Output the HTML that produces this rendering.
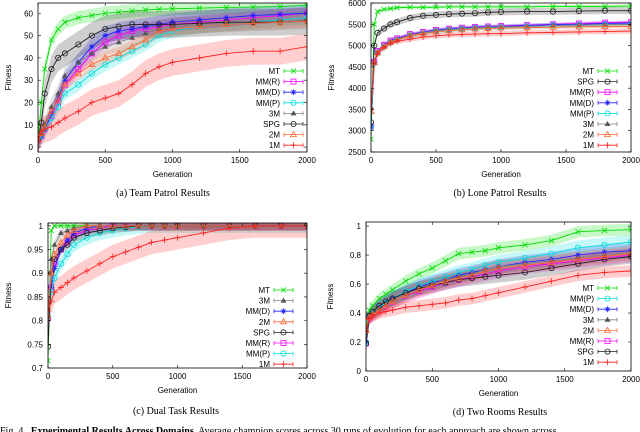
<!DOCTYPE html>
<html><head><meta charset="utf-8">
<style>
html,body{margin:0;padding:0;background:#fff;}
svg{display:block;}
.tk{font-family:"Liberation Sans",sans-serif;font-size:8px;fill:#000;}
.cap{font-family:"Liberation Serif",serif;font-size:10px;fill:#000;}
</style></head>
<body>
<svg id="fig" width="640" height="432" viewBox="0 0 640 432" xmlns="http://www.w3.org/2000/svg"></svg>
<script>
const gens=[0,25,50,100,150,200,300,400,500,600,700,800,900,1000,1200,1400,1600,1800,2000];
const names=["MT","MM(R)","MM(D)","MM(P)","3M","SPG","2M","1M"];
const colors={"MT":"#00dd00","MM(R)":"#ff00ff","MM(D)":"#2222ff","MM(P)":"#00dddd","3M":"#808080","SPG":"#202020","2M":"#ff6633","1M":"#ff2222"};
const markers={"MT":"x","MM(R)":"sq","MM(D)":"star","MM(P)":"circ","3M":"ftri","SPG":"circ","2M":"tri","1M":"plus"};
// (a) Team Patrol
const aMT=[3,20,35,48,53,56,58,59,60,60.5,61,61.5,61.8,62,62.3,62.6,62.8,63,63.5];
const aMMR=[3,5,8,14,20,28,35,42,47,50,52,53,54,55,56,57,58,59,60];
const aMMD=[3,5,8,15,22,30,38,45,50,52,53,54,55,56,57,58,59,59.5,60];
const aMMP=[3,5,8,13,18,24,28,33,37,40,43,46,50,52,54,55,56,57,58];
const a3M=[3,6,10,18,24,32,38,42,45,47,49,51,53,54,55,55.5,56,56.5,57];
const aSPG=[3,11,24,35,40,42,46,50,53,54,55,55,55,55,55.5,56,56,56,56.5];
const a2M=[3,6,9,16,21,28,33,37,40,42,45,48,52,53,54,55,55.5,56,56.5];
const a1M=[3,7,8,9,11,13,16,20,22,24,28,33,36,38,40,42,43,43,45];
const aErr=[3,3,4,3,4,6,3,6];
const aYTicks=[0,10,20,30,40,50,60];
const aLegend=["MT","MM(R)","MM(D)","MM(P)","3M","SPG","2M","1M"];
// (b) Lone Patrol
const bMT=[2800,5500,5800,5850,5870,5890,5900,5900,5900,5910,5910,5910,5910,5910,5910,5920,5920,5920,5930];
const bMMR=[3100,4620,4870,5020,5120,5170,5270,5320,5370,5400,5420,5440,5450,5460,5480,5500,5520,5540,5550];
const bMMD=[3100,4610,4860,5010,5110,5160,5260,5310,5360,5390,5410,5430,5440,5450,5470,5490,5500,5520,5530];
const bMMP=[3080,4580,4820,4970,5070,5130,5230,5290,5340,5370,5390,5410,5420,5430,5450,5470,5480,5490,5500];
const b3M=[3550,4600,4850,5000,5100,5150,5250,5300,5350,5380,5400,5420,5430,5440,5450,5470,5480,5490,5500];
const bSPG=[3200,5000,5300,5400,5500,5550,5650,5700,5720,5740,5750,5760,5780,5790,5800,5800,5810,5820,5820];
const b2M=[3450,4600,4830,4980,5080,5130,5230,5280,5320,5350,5370,5390,5400,5410,5420,5430,5440,5445,5450];
const b1M=[3500,4600,4800,4950,5050,5100,5150,5200,5230,5250,5260,5270,5280,5280,5300,5310,5320,5330,5340];
const bErr=[40,40,40,60,40,80,40,60];
const bYTicks=[2500,3000,3500,4000,4500,5000,5500,6000];
const bLegend=["MT","SPG","MM(R)","MM(D)","MM(P)","3M","2M","1M"];
// (c) Dual Task
const cMT=[0.715,0.99,1,1,1,1,1,1,1,1,1,1,1,1,1,1,1,1,1];
const cMMR=[0.805,0.87,0.92,0.95,0.965,0.98,0.99,0.995,1,1,1,1,1,1,1,1,1,1,1];
const cMMD=[0.81,0.87,0.91,0.95,0.97,0.985,0.995,1,1,1,1,1,1,1,1,1,1,1,1];
const cMMP=[0.81,0.86,0.89,0.92,0.94,0.96,0.975,0.985,0.99,0.995,0.998,1,1,1,1,1,1,1,1];
const c3M=[0.81,0.93,0.96,0.985,0.99,0.995,1,1,1,1,1,1,1,1,1,1,1,1,1];
const cSPG=[0.745,0.9,0.93,0.95,0.96,0.975,0.985,0.99,0.995,0.997,1,1,1,1,1,1,1,1,1];
const c2M=[0.81,0.9,0.94,0.965,0.98,0.99,1,1,1,1,1,1,1,1,1,1,1,1,1];
const c1M=[0.82,0.84,0.86,0.87,0.88,0.89,0.905,0.92,0.935,0.945,0.955,0.965,0.97,0.975,0.985,0.995,1,1,1];
const cErr=[0.003,0.008,0.01,0.015,0.01,0.01,0.01,0.025];
const cYTicks=[0.7,0.75,0.8,0.85,0.9,0.95,1];
const cLegend=["MT","3M","MM(D)","2M","SPG","MM(R)","MM(P)","1M"];
// (d) Two Rooms
const dMT=[0.28,0.42,0.45,0.5,0.53,0.56,0.62,0.67,0.71,0.76,0.81,0.82,0.83,0.85,0.87,0.9,0.96,0.97,0.975];
const dMMR=[0.19,0.37,0.39,0.42,0.45,0.48,0.52,0.55,0.58,0.61,0.63,0.65,0.67,0.69,0.72,0.74,0.76,0.78,0.8];
const dMMD=[0.2,0.38,0.4,0.44,0.47,0.5,0.54,0.58,0.61,0.63,0.66,0.68,0.7,0.72,0.75,0.77,0.8,0.82,0.83];
const dMMP=[0.2,0.38,0.4,0.44,0.47,0.5,0.55,0.59,0.62,0.65,0.68,0.7,0.73,0.75,0.78,0.81,0.85,0.87,0.89];
const d3M=[0.28,0.38,0.4,0.43,0.46,0.49,0.53,0.57,0.6,0.63,0.65,0.67,0.7,0.72,0.74,0.76,0.78,0.8,0.82];
const dSPG=[0.19,0.38,0.41,0.45,0.48,0.5,0.54,0.57,0.59,0.61,0.63,0.64,0.65,0.66,0.68,0.71,0.74,0.77,0.79];
const d2M=[0.28,0.37,0.39,0.42,0.45,0.48,0.52,0.56,0.59,0.62,0.64,0.66,0.69,0.71,0.73,0.75,0.77,0.79,0.81];
const d1M=[0.28,0.36,0.38,0.4,0.41,0.42,0.44,0.45,0.46,0.47,0.49,0.5,0.52,0.54,0.58,0.62,0.66,0.68,0.69];
const dErr=[0.04,0.05,0.05,0.05,0.05,0.05,0.05,0.04];
const dYTicks=[0,0.2,0.4,0.6,0.8,1];
const dLegend=["MT","MM(P)","MM(D)","3M","2M","MM(R)","SPG","1M"];
const xTicks=[0,500,1000,1500,2000];

const NS="http://www.w3.org/2000/svg";
const fig=document.getElementById('fig');
function mk(tag,attrs,parent){const e=document.createElementNS(NS,tag);for(const k in attrs)e.setAttribute(k,attrs[k]);(parent||fig).appendChild(e);return e;}
function marker(g,type,x,y,c){
  let e;
  if(type==="x"){e=mk('path',{d:`M${x-2.5} ${y-2.5}L${x+2.5} ${y+2.5}M${x-2.5} ${y+2.5}L${x+2.5} ${y-2.5}`,stroke:c,'stroke-width':0.8,fill:'none'},g);}
  else if(type==="plus"){e=mk('path',{d:`M${x-3} ${y}L${x+3} ${y}M${x} ${y-3}L${x} ${y+3}`,stroke:c,'stroke-width':0.8,fill:'none'},g);}
  else if(type==="star"){e=mk('path',{d:`M${x-3} ${y}L${x+3} ${y}M${x} ${y-3}L${x} ${y+3}M${x-2} ${y-2}L${x+2} ${y+2}M${x-2} ${y+2}L${x+2} ${y-2}`,stroke:c,'stroke-width':0.8,fill:'none'},g);}
  else if(type==="sq"){e=mk('rect',{x:x-2.5,y:y-2.5,width:5,height:5,stroke:c,'stroke-width':0.8,fill:'none'},g);}
  else if(type==="circ"){e=mk('circle',{cx:x,cy:y,r:2.6,stroke:c,'stroke-width':0.8,fill:'none'},g);}
  else if(type==="tri"){e=mk('path',{d:`M${x} ${y-3}L${x+3} ${y+2}L${x-3} ${y+2}Z`,stroke:c,'stroke-width':0.8,fill:'none'},g);}
  else {e=mk('path',{d:`M${x} ${y-3}L${x+3} ${y+2}L${x-3} ${y+2}Z`,fill:'#555'},g);}
  
  
}
function drawPlot(id,box,yMin,yMax,yTicks,yFmt,series,errs,legend,legX,legY,caption,capX,capY,ylabX){
  const g=mk('g',{});
  
  
  const xs=v=>box.x0+(v-0)/(2000)*(box.x1-box.x0);
  const ys=v=>box.y1-(v-yMin)/(yMax-yMin)*(box.y1-box.y0);
  const cp=mk('clipPath',{id:'clip-'+id},g);
  mk('rect',{x:box.x0,y:box.y0,width:box.x1-box.x0,height:box.y1-box.y0},cp);
  const plot=mk('g',{'clip-path':`url(#clip-${id})`},g);
  
  
  // bands
  names.forEach((n,i)=>{
    const vals=series[i],e=errs[i],c=colors[n];
    let up=gens.map((gv,j)=>`${xs(gv)},${ys(vals[j]+e)}`);
    let dn=gens.map((gv,j)=>`${xs(gv)},${ys(vals[j]-e)}`).reverse();
    const p=mk('polygon',{points:up.concat(dn).join(' '),fill:c,'fill-opacity':0.22,stroke:'none'},plot);
    
    
  });
  names.forEach((n,i)=>{
    const vals=series[i],c=colors[n];
    const sg=mk('g',{},plot);
    
    
    mk('polyline',{points:gens.map((gv,j)=>`${xs(gv)},${ys(vals[j])}`).join(' '),fill:'none',stroke:c,'stroke-width':0.9},sg);
    gens.forEach((gv,j)=>marker(sg,markers[n],xs(gv),ys(vals[j]),c));
  });
  // frame
  const fr=mk('rect',{x:box.x0,y:box.y0,width:box.x1-box.x0,height:box.y1-box.y0,fill:'none',stroke:'#000','stroke-width':0.8},g);
  
  
  yTicks.forEach(t=>{
    const y=ys(t);
    mk('path',{d:`M${box.x0} ${y}h3M${box.x1} ${y}h-3`,stroke:'#000','stroke-width':0.6},g);
    const tx=mk('text',{x:box.x0-5,y:y+3,'text-anchor':'end',class:'tk'},g);
    tx.textContent=yFmt(t);
    
    
  });
  xTicks.forEach(t=>{
    const x=xs(t);
    mk('path',{d:`M${x} ${box.y1}v-3M${x} ${box.y0}v3`,stroke:'#000','stroke-width':0.6},g);
    const tx=mk('text',{x:x,y:box.y1+11,'text-anchor':'middle',class:'tk'},g);
    tx.textContent=t;
    
    
  });
  const yl=mk('text',{x:ylabX,y:(box.y0+box.y1)/2,'text-anchor':'middle',class:'tk',transform:`rotate(-90 ${ylabX} ${(box.y0+box.y1)/2})`},g);
  yl.textContent='Fitness';
  
  
  const xl=mk('text',{x:(box.x0+box.x1)/2,y:box.y1+25,'text-anchor':'middle',class:'tk'},g);
  xl.textContent='Generation';
  
  
  legend.forEach((n,k)=>{
    const y=legY+k*10.6,c=colors[n];
    const lg=mk('g',{},g);
    
    
    const t=mk('text',{x:legX,y:y+3,'text-anchor':'end',class:'tk'},lg);
    t.textContent=n;
    mk('path',{d:`M${legX+4} ${y}h19M${legX+4} ${y-2}v4M${legX+23} ${y-2}v4`,stroke:c,'stroke-width':0.8,fill:'none'},lg);
    marker(lg,markers[n],legX+13.5,y,c);
  });
  const ct=mk('text',{x:capX,y:capY,'text-anchor':'middle',class:'cap'});
  ct.textContent=caption;
  
  
}
drawPlot('team-patrol',{x0:38,x1:307,y0:3,y1:152},-2.2,64.6,aYTicks,t=>String(t),[aMT,aMMR,aMMD,aMMP,a3M,aSPG,a2M,a1M],aErr,aLegend,280,71,'(a) Team Patrol Results',163,196,11);
drawPlot('lone-patrol',{x0:371,x1:631,y0:3,y1:152},2500,6000,bYTicks,t=>String(t),[bMT,bMMR,bMMD,bMMP,b3M,bSPG,b2M,b1M],bErr,bLegend,594,71,'(b) Lone Patrol Results',500,196,334);
drawPlot('dual-task',{x0:48,x1:307,y0:223,y1:368},0.7,1.006,cYTicks,t=>String(+t.toFixed(2)),[cMT,cMMR,cMMD,cMMP,c3M,cSPG,c2M,c1M],cErr,cLegend,270,290,'(c) Dual Task Results',176,414,11);
drawPlot('two-rooms',{x0:366,x1:631,y0:222,y1:371},0,1.028,dYTicks,t=>String(+t.toFixed(1)),[dMT,dMMR,dMMD,dMMP,d3M,dSPG,d2M,d1M],dErr,dLegend,594,288,'(d) Two Rooms Results',500,415,333);
const fc=mk('text',{x:0,y:434,class:'cap'});
fc.innerHTML='Fig. 4.&#160;&#160;<tspan font-weight="bold">Experimental Results Across Domains.</tspan> Average champion scores across 30 runs of evolution for each approach are shown across';


</script>
</body></html>
